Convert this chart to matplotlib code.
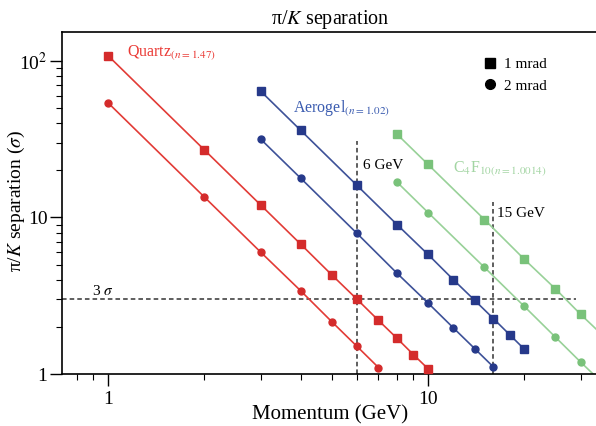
import numpy as np
import matplotlib.pyplot as plt
from matplotlib.lines import Line2D

plt.rcParams['font.family'] = ['Liberation Serif', 'DejaVu Serif']
plt.rcParams['mathtext.fontset'] = 'stix'

# pi/K separation (sigma) vs momentum (GeV)
quartz_p1 = [1, 2, 3, 4, 5, 6, 7, 8, 9, 10]
quartz_s1 = [108, 27, 12, 6.75, 4.3, 3.0, 2.2, 1.69, 1.33, 1.08]
quartz_p2 = [1, 2, 3, 4, 5, 6, 7]
quartz_s2 = [54, 13.5, 6.0, 3.4, 2.16, 1.5, 1.1]

aero_p1 = [3, 4, 6, 8, 10, 12, 14, 16, 18, 20]
aero_s1 = [64, 36, 16, 9.0, 5.8, 4.0, 2.95, 2.26, 1.78, 1.44]
aero_p2 = [3, 4, 6, 8, 10, 12, 14, 16]
aero_s2 = [31.6, 17.8, 7.9, 4.4, 2.84, 1.97, 1.45, 1.11]

c4f10_p1 = [8, 10, 15, 20, 25, 30, 35]
c4f10_s1 = [34, 21.8, 9.7, 5.4, 3.5, 2.4, 1.78]
c4f10_p2 = [8, 10, 15, 20, 25, 30, 35]
c4f10_s2 = [16.8, 10.75, 4.8, 2.7, 1.72, 1.19, 0.88]

sigma_cut = 3
p_lines = [6, 16]

red = '#e23b36'
red_m = '#d42b2b'
blue = '#3d5198'
blue_m = '#26398a'
green = '#98d198'
green_m = '#79c27a'

fig = plt.figure(figsize=(5.96, 4.26), dpi=100)
ax = fig.add_axes([0.104, 0.122, 0.901, 0.803])

def series(p, s, lc, mc, marker, ms):
    ax.plot(p, s, color=lc, lw=1.2, zorder=2)
    ax.plot(p, s, linestyle='none', marker=marker, ms=ms, color=mc,
            markeredgecolor=mc, zorder=3)

series(quartz_p1, quartz_s1, red, red_m, 's', 5.5)
series(quartz_p2, quartz_s2, red, red_m, 'o', 5)
series(aero_p1, aero_s1, blue, blue_m, 's', 5.5)
series(aero_p2, aero_s2, blue, blue_m, 'o', 5)
series(c4f10_p1, c4f10_s1, green, green_m, 's', 5.5)
series(c4f10_p2, c4f10_s2, green, green_m, 'o', 5)

# reference lines
ax.plot([0.718, 29], [sigma_cut, sigma_cut], color='#333333', lw=1.1,
        linestyle=(0, (3, 2)), zorder=1)
ax.plot([p_lines[0], p_lines[0]], [1, 31], color='#333333', lw=1.1,
        linestyle=(0, (3, 2)), zorder=1)
ax.plot([p_lines[1], p_lines[1]], [1, 12.5], color='#333333', lw=1.1,
        linestyle=(0, (3, 2)), zorder=1)

ax.set_xscale('log')
ax.set_yscale('log')
ax.set_xlim(0.718, 34.2)
ax.set_ylim(1, 153)

ax.set_yticks([1, 10, 100], ['1', '10', '10$^2$'])
ax.set_xticks([1, 10], ['1', '10'])
ax.tick_params(axis='both', which='major', labelsize=14, length=8.5, width=1)
ax.tick_params(axis='y', which='major', pad=2)
ax.tick_params(axis='both', which='minor', length=4.5, width=0.8)
ax.yaxis.set_minor_formatter(plt.NullFormatter())
ax.xaxis.set_minor_formatter(plt.NullFormatter())
ax.spines['right'].set_visible(False)
for sp in ['left', 'bottom', 'top']:
    ax.spines[sp].set_linewidth(1.2)

ax.set_xlabel('Momentum (GeV)', fontsize=15, labelpad=-2)
ax.set_ylabel('π/$K$ separation ($\\sigma$)', fontsize=14)
ax.yaxis.set_label_coords(-0.066, 0.505)
ax.set_title('π/$K$ separation', fontsize=14.5, pad=6)

# annotations
ax.text(1.15, 113, 'Quartz$_{(n{=}1.47)}$', color='#ea3a35', fontsize=11.5,
        va='center')
ax.text(3.78, 50, 'Aerogel$_{(n{=}1.02)}$', color='#3b5cb0', fontsize=11.5,
        va='center')
ax.text(12, 20.6, 'C$_4$F$_{10(n{=}1.0014)}$', color='#a3d5a3', fontsize=11.5,
        va='center')
ax.text(6.26, 21.5, '6 GeV', fontsize=11, va='center')
ax.text(16.4, 10.6, '15 GeV', fontsize=11, va='center')
ax.text(0.89, 3.4, '3 $\\sigma$', fontsize=11, va='center')

handles = [Line2D([], [], linestyle='none', marker='s', color='black', ms=7),
           Line2D([], [], linestyle='none', marker='o', color='black', ms=7)]
ax.legend(handles, ['1 mrad', '2 mrad'], loc='upper left',
          bbox_to_anchor=(0.76, 0.965), frameon=False, fontsize=11,
          handlelength=0.8, handletextpad=0.5, labelspacing=0.5)

fig.savefig('out.png', dpi=100)
